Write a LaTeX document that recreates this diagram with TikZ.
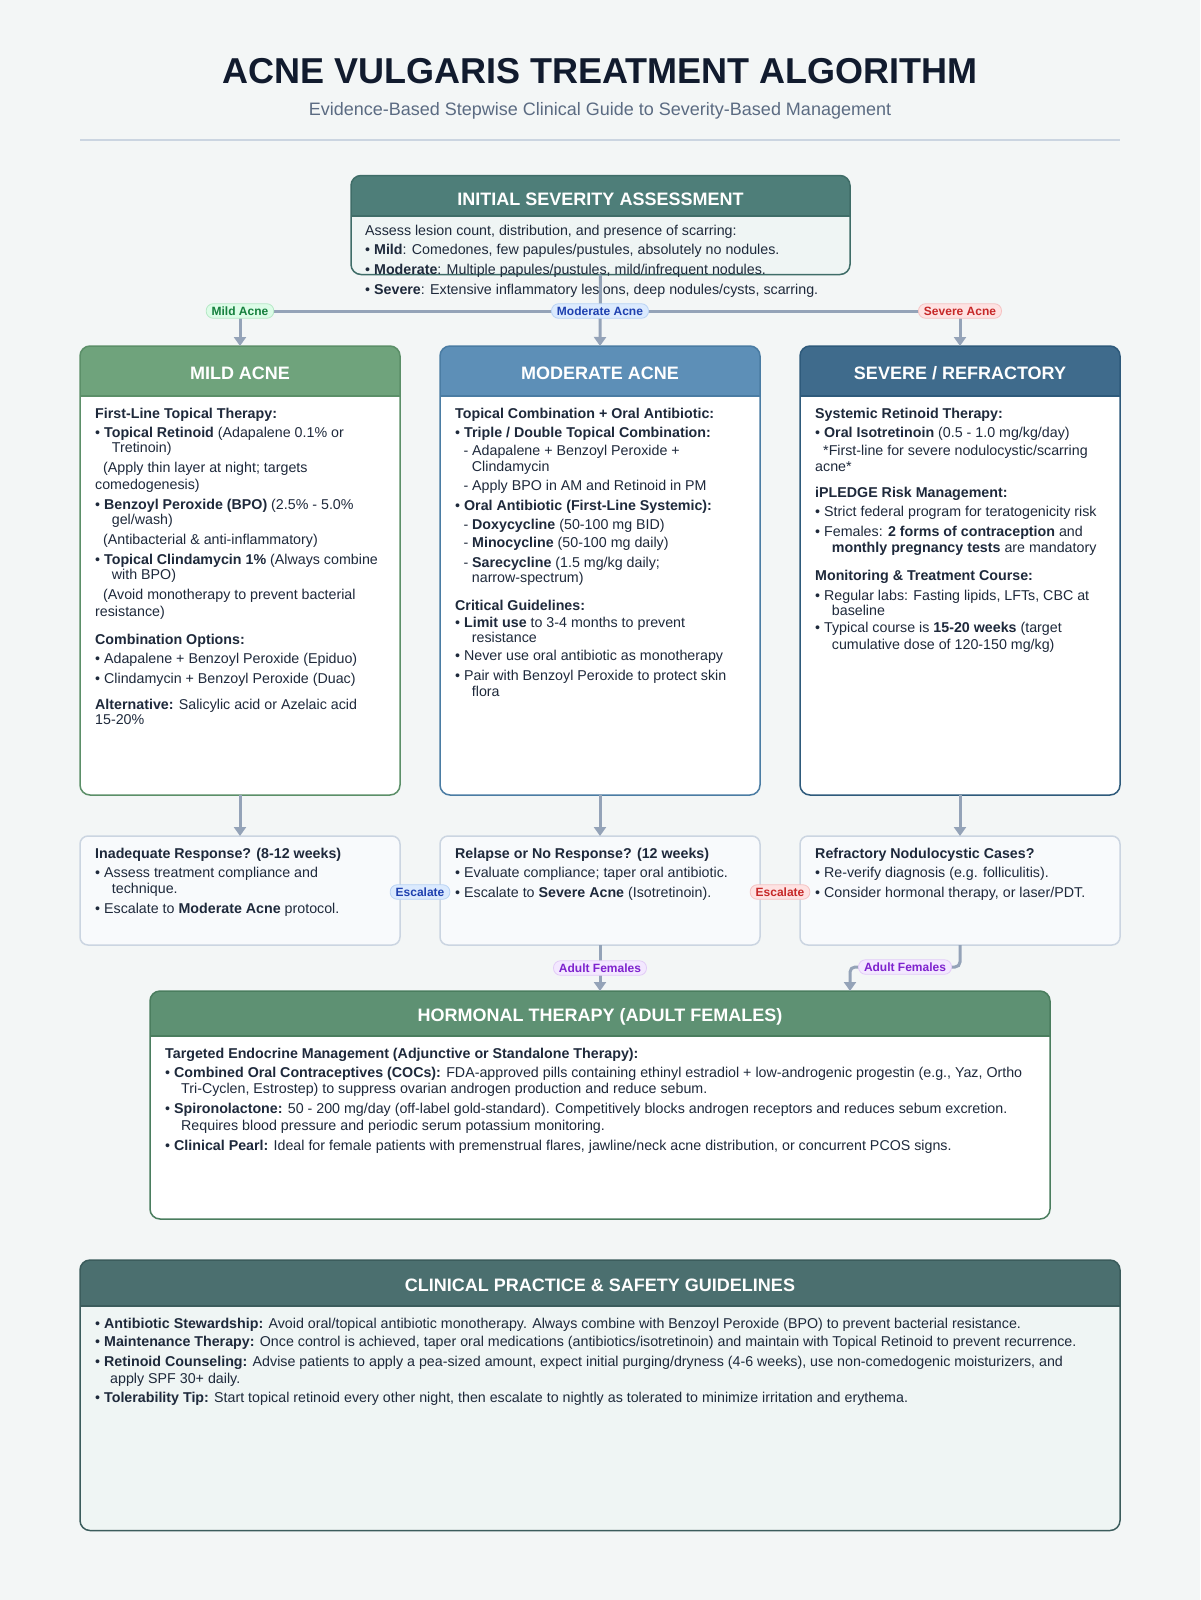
\documentclass[tikz,border=0pt]{standalone}
\usepackage{fontspec}
\setmainfont{Liberation Sans}
\usetikzlibrary{arrows.meta,calc}
\definecolor{bgc}{HTML}{F3F6F6}
\definecolor{titlec}{HTML}{111B2E}
\definecolor{subc}{HTML}{5B6B82}
\definecolor{sepc}{HTML}{CBD5E1}
\definecolor{txtc}{HTML}{1E293B}
\definecolor{connc}{HTML}{94A3B8}
\definecolor{inith}{HTML}{4E7E79}
\definecolor{initb}{HTML}{3F6D68}
\definecolor{initf}{HTML}{EFF5F4}
\definecolor{mildh}{HTML}{6FA37C}
\definecolor{mildb}{HTML}{5B8F68}
\definecolor{modh}{HTML}{5D8FB7}
\definecolor{modb}{HTML}{4A7CA3}
\definecolor{sevh}{HTML}{3F6B8C}
\definecolor{sevb}{HTML}{2E5A7B}
\definecolor{horh}{HTML}{5E9173}
\definecolor{horb}{HTML}{4A7D5E}
\definecolor{guih}{HTML}{4B6F6F}
\definecolor{guib}{HTML}{3B5C5C}
\definecolor{guif}{HTML}{EFF5F4}
\definecolor{decf}{HTML}{F8FAFC}
\definecolor{decb}{HTML}{CBD5E1}
\definecolor{pgf}{HTML}{DCFCE7}
\definecolor{pgb}{HTML}{B5E8C6}
\definecolor{pgt}{HTML}{15803D}
\definecolor{pbf}{HTML}{DBEAFE}
\definecolor{pbb}{HTML}{B9D3F5}
\definecolor{pbt}{HTML}{1E40AF}
\definecolor{prf}{HTML}{FEE2E2}
\definecolor{prb}{HTML}{F5C2C2}
\definecolor{prt}{HTML}{C62828}
\definecolor{ppf}{HTML}{F3E8FF}
\definecolor{ppb}{HTML}{E2CCF7}
\definecolor{ppt}{HTML}{7E22CE}

\newcommand\panelbox[9]{%
  \node[panelnode, fill=#9, minimum width=#4, minimum height=#5] (#1) at (#2,#3) {};
  \fill[#7, rounded corners=10pt] (#1.north west) rectangle ([yshift=-#6pt]#1.north east);
  \fill[#7] ([yshift=-15pt]#1.north west) rectangle ([yshift=-#6pt]#1.north east);
  \draw[#8, line width=1.5pt] ([yshift=-#6pt]#1.north west) -- ([yshift=-#6pt]#1.north east);
  \draw[#8, line width=1.5pt, rounded corners=10pt] (#1.north west) rectangle (#1.south east);
}

\begin{document}
\begin{tikzpicture}[x=1pt,y=-1pt,
  panelnode/.style={anchor=north west, rectangle, rounded corners=10pt, inner sep=0pt, outer sep=0pt},
  hdr/.style={anchor=base, text=white, font=\fontsize{18}{20}\selectfont\bfseries, inner sep=0pt},
  body/.style={anchor=north west, align=left, inner sep=0pt, text=txtc, font=\fontsize{14.25}{16.3}\selectfont},
  dec/.style={anchor=north west, rectangle, rounded corners=8pt, draw=decb, fill=decf, line width=1.5pt, minimum width=320, minimum height=109, inner sep=0pt, outer sep=0pt},
  conn/.style={draw=connc, line width=3pt, -{Triangle[width=12pt,length=9pt]}},
  plainconn/.style={draw=connc, line width=3pt},
  pill/.style={rectangle, rounded corners=7pt, inner xsep=5.5pt, inner ysep=1.5pt, minimum height=14.5pt, font=\fontsize{12}{12}\selectfont\bfseries, line width=0.8pt},
  pgreen/.style={pill, fill=pgf, draw=pgb, text=pgt},
  pblue/.style={pill, fill=pbf, draw=pbb, text=pbt},
  pred/.style={pill, fill=prf, draw=prb, text=prt},
  ppurple/.style={pill, fill=ppf, draw=ppb, text=ppt}
]
\useasboundingbox[fill=bgc] (0,0) rectangle (1200,1600);

% title
\node[anchor=base, inner sep=0pt, text=titlec, font=\fontsize{36}{40}\selectfont\bfseries] (title) at (600,83.5) {ACNE VULGARIS TREATMENT ALGORITHM};
\node[anchor=base, inner sep=0pt, text=subc, font=\fontsize{18}{20}\selectfont] (subtitle) at (600,116) {Evidence-Based Stepwise Clinical Guide to Severity-Based Management};
\draw[sepc, line width=2pt] (80,140) -- (1120,140);

% initial assessment
\panelbox{init}{351}{175.5}{499}{99}{40.5}{inith}{initb}{initf}
\node[hdr] (init-t) at ([yshift=-29.5pt]init.north) {INITIAL SEVERITY ASSESSMENT};
\node[body] (init-b) at (365,225) {Assess lesion count, distribution, and presence of scarring:\\[3pt]
• \textbf{Mild}: Comedones, few papules/pustules, absolutely no nodules.\\[3pt]
• \textbf{Moderate}: Multiple papules/pustules, mild/infrequent nodules.\\[3.7pt]
• \textbf{Severe}: Extensive inflammatory lesions, deep nodules/cysts, scarring.};

% three severity panels
\panelbox{mild}{80}{346}{320}{449}{50}{mildh}{mildb}{white}
\node[hdr] (mild-t) at ([yshift=-33.3pt]mild.north) {MILD ACNE};
\panelbox{mod}{440}{346}{320}{449}{50}{modh}{modb}{white}
\node[hdr] (mod-t) at ([yshift=-33.3pt]mod.north) {MODERATE ACNE};
\panelbox{sev}{800}{346}{320}{449}{50}{sevh}{sevb}{white}
\node[hdr] (sev-t) at ([yshift=-33.3pt]sev.north) {SEVERE / REFRACTORY};

\node[body] (mild-b) at (95,408.3) {\textbf{First-Line Topical Therapy:}\\[2.3pt]
• \textbf{Topical Retinoid} (Adapalene 0.1\% or\\[-0.8pt]
\hspace*{16.7pt}Tretinoin)\\[3.7pt]
\hspace*{8pt}(Apply thin layer at night; targets\\[0.3pt]
comedogenesis)\\[3.7pt]
• \textbf{Benzoyl Peroxide (BPO)} (2.5\% - 5.0\%\\[-1.3pt]
\hspace*{16.7pt}gel/wash)\\[3.7pt]
\hspace*{8pt}(Antibacterial \& anti-inflammatory)\\[3.7pt]
• \textbf{Topical Clindamycin 1\%} (Always combine\\[-1.3pt]
\hspace*{16.7pt}with BPO)\\[3.7pt]
\hspace*{8pt}(Avoid monotherapy to prevent bacterial\\[0.3pt]
resistance)\\[12pt]
\textbf{Combination Options:}\\[3pt]
• Adapalene + Benzoyl Peroxide (Epiduo)\\[3pt]
• Clindamycin + Benzoyl Peroxide (Duac)\\[10.3pt]
\textbf{Alternative:} Salicylic acid or Azelaic acid\\[-1.3pt]
15-20\%};

\node[body] (mod-b) at (455,408.3) {\textbf{Topical Combination + Oral Antibiotic:}\\[2.2pt]
• \textbf{Triple / Double Topical Combination:}\\[2.2pt]
\hspace*{8.3pt}- Adapalene + Benzoyl Peroxide +\\[-0.3pt]
\hspace*{16.7pt}Clindamycin\\[2.7pt]
\hspace*{8.3pt}- Apply BPO in AM and Retinoid in PM\\[3pt]
• \textbf{Oral Antibiotic (First-Line Systemic):}\\[2.7pt]
\hspace*{8.3pt}- \textbf{Doxycycline} (50-100 mg BID)\\[2.5pt]
\hspace*{8.3pt}- \textbf{Minocycline} (50-100 mg daily)\\[3pt]
\hspace*{8.3pt}- \textbf{Sarecycline} (1.5 mg/kg daily;\\[-1.3pt]
\hspace*{16.7pt}narrow-spectrum)\\[12pt]
\textbf{Critical Guidelines:}\\[0.4pt]
• \textbf{Limit use} to 3-4 months to prevent\\[-1.3pt]
\hspace*{16.7pt}resistance\\[2pt]
• Never use oral antibiotic as monotherapy\\[3.7pt]
• Pair with Benzoyl Peroxide to protect skin\\[-0.3pt]
\hspace*{16.7pt}flora};

\node[body] (sev-b) at (815,408.3) {\textbf{Systemic Retinoid Therapy:}\\[2.2pt]
• \textbf{Oral Isotretinoin} (0.5 - 1.0 mg/kg/day)\\[2.2pt]
\hspace*{8pt}*First-line for severe nodulocystic/scarring\\[-0.3pt]
acne*\\[9.4pt]
\textbf{iPLEDGE Risk Management:}\\[3pt]
• Strict federal program for teratogenicity risk\\[3.7pt]
• Females: \textbf{2 forms of contraception} and\\[-0.6pt]
\hspace*{16.7pt}\textbf{monthly pregnancy tests} are mandatory\\[12pt]
\textbf{Monitoring \& Treatment Course:}\\[3pt]
• Regular labs: Fasting lipids, LFTs, CBC at\\[-0.6pt]
\hspace*{16.7pt}baseline\\[0.4pt]
• Typical course is \textbf{15-20 weeks} (target\\[0.3pt]
\hspace*{16.7pt}cumulative dose of 120-150 mg/kg)};

% decision boxes
\node[dec] (d1) at (80,836) {};
\node[dec] (d2) at (440,836) {};
\node[dec] (d3) at (800,836) {};
\node[body] (d1-b) at (95,848.3) {\textbf{Inadequate Response? (8-12 weeks)}\\[2.1pt]
• Assess treatment compliance and\\[-0.3pt]
\hspace*{16.7pt}technique.\\[4.3pt]
• Escalate to \textbf{Moderate Acne} protocol.};
\node[body] (d2-b) at (455,848.3) {\textbf{Relapse or No Response? (12 weeks)}\\[2.1pt]
• Evaluate compliance; taper oral antibiotic.\\[3.7pt]
• Escalate to \textbf{Severe Acne} (Isotretinoin).};
\node[body] (d3-b) at (815,848.3) {\textbf{Refractory Nodulocystic Cases?}\\[2.1pt]
• Re-verify diagnosis (e.g. folliculitis).\\[3.7pt]
• Consider hormonal therapy, or laser/PDT.};

% hormonal therapy
\panelbox{horm}{150}{991}{900}{228}{45}{horh}{horb}{white}
\node[hdr] (horm-t) at ([yshift=-30.7pt]horm.north) {HORMONAL THERAPY (ADULT FEMALES)};
\node[body] (horm-b) at (165,1048.3) {\textbf{Targeted Endocrine Management (Adjunctive or Standalone Therapy):}\\[2.1pt]
• \textbf{Combined Oral Contraceptives (COCs):} FDA-approved pills containing ethinyl estradiol + low-androgenic progestin (e.g., Yaz, Ortho\\[0.3pt]
\hspace*{16pt}Tri-Cyclen, Estrostep) to suppress ovarian androgen production and reduce sebum.\\[3.7pt]
• \textbf{Spironolactone:} 50 - 200 mg/day (off-label gold-standard). Competitively blocks androgen receptors and reduces sebum excretion.\\[0.4pt]
\hspace*{16pt}Requires blood pressure and periodic serum potassium monitoring.\\[3.7pt]
• \textbf{Clinical Pearl:} Ideal for female patients with premenstrual flares, jawline/neck acne distribution, or concurrent PCOS signs.};

% guidelines
\panelbox{gui}{80}{1260}{1040}{270.5}{46}{guih}{guib}{guif}
\node[hdr] (gui-t) at ([yshift=-31.7pt]gui.north) {CLINICAL PRACTICE \& SAFETY GUIDELINES};
\node[body] (gui-b) at (95,1318) {• \textbf{Antibiotic Stewardship:} Avoid oral/topical antibiotic monotherapy. Always combine with Benzoyl Peroxide (BPO) to prevent bacterial resistance.\\[2.1pt]
• \textbf{Maintenance Therapy:} Once control is achieved, taper oral medications (antibiotics/isotretinoin) and maintain with Topical Retinoid to prevent recurrence.\\[3.7pt]
• \textbf{Retinoid Counseling:} Advise patients to apply a pea-sized amount, expect initial purging/dryness (4-6 weeks), use non-comedogenic moisturizers, and\\[0.3pt]
\hspace*{15pt}apply SPF 30+ daily.\\[3.1pt]
• \textbf{Tolerability Tip:} Start topical retinoid every other night, then escalate to nightly as tolerated to minimize irritation and erythema.};

% connectors
\coordinate (split) at (600,311);
\draw[conn] (init.south) -- (mod.north);
\draw[conn] (split) -| (mild.north);
\draw[conn] (split) -| (sev.north);
\draw[conn] (mild.south) -- (d1.north);
\draw[conn] (mod.south) -- (d2.north);
\draw[conn] (sev.south) -- (d3.north);
\draw[plainconn] (d1.east) -- (d2.west);
\draw[plainconn] (d2.east) -- (d3.west);
\draw[conn] (d2.south) -- (horm.north);
\coordinate (hin) at ($(horm.north east)+(-200,0)$);
\draw[conn, rounded corners=5pt] (d3.south) -- ++(0,22) -| (hin);

% pills
\node[pgreen] (p-mild) at (mild.north |- split) {Mild Acne};
\node[pblue] (p-mod) at (split) {Moderate Acne};
\node[pred] (p-sev) at (sev.north |- split) {Severe Acne};
\node[pblue] (p-esc1) at ($(d1.east)!0.5!(d2.west)+(0,1.5)$) {Escalate};
\node[pred] (p-esc2) at ($(d2.east)!0.5!(d3.west)+(0,1.5)$) {Escalate};
\node[ppurple] (p-af1) at (600,968) {Adult Females};
\node[ppurple] (p-af2) at (905,967) {Adult Females};
\end{tikzpicture}
\end{document}
